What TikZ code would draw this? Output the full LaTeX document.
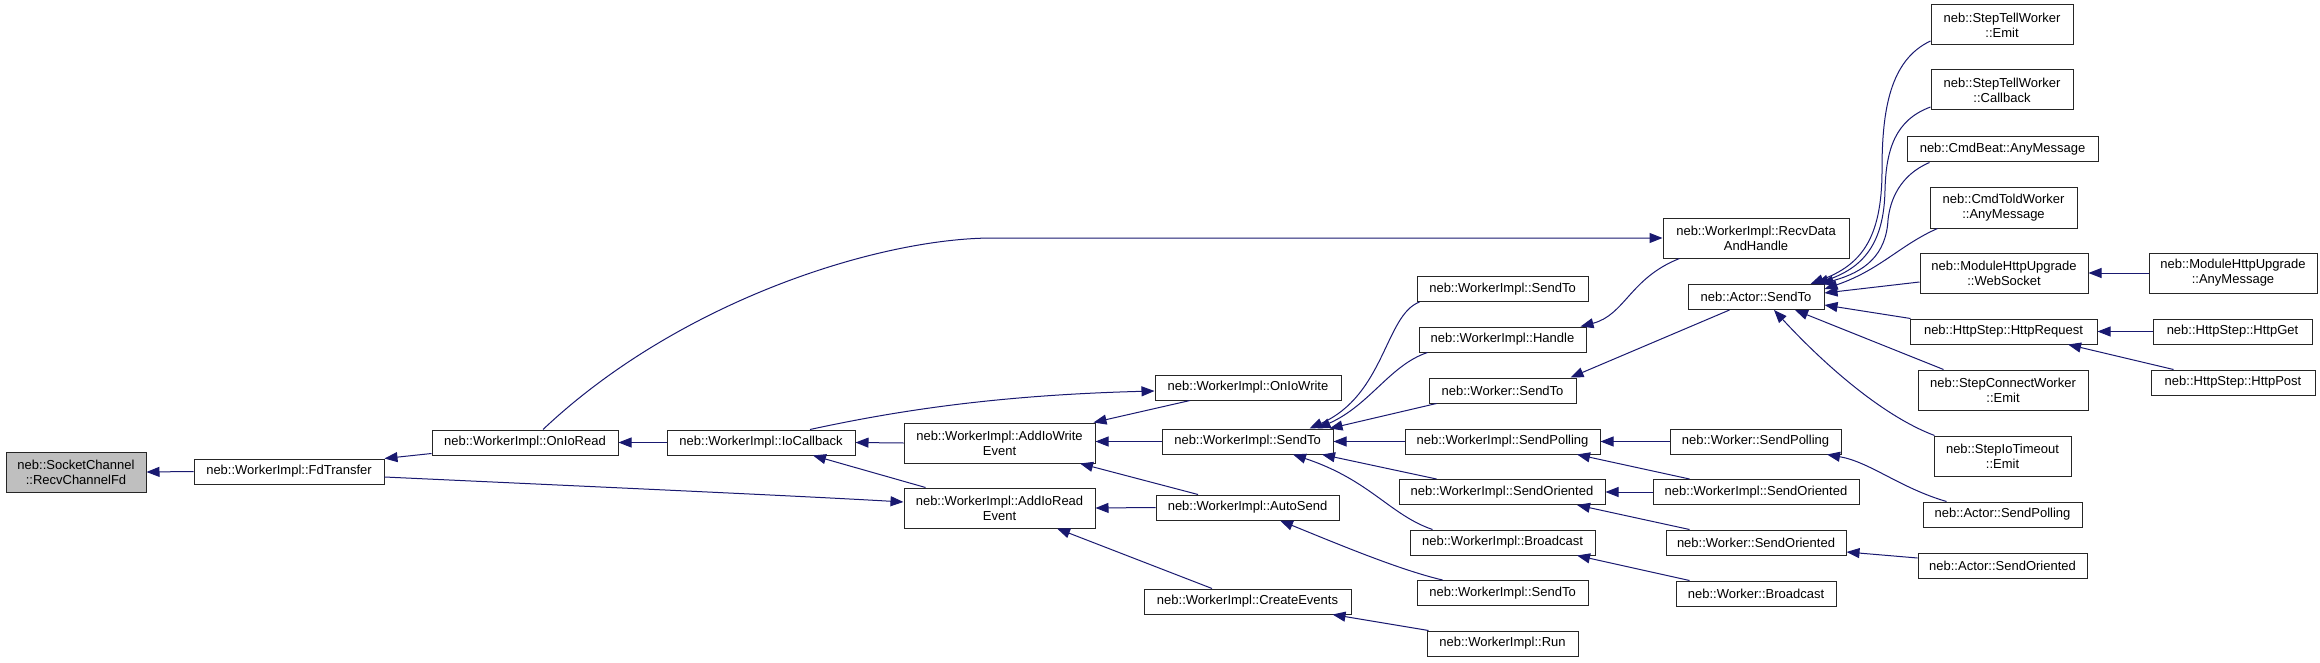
\documentclass[tikz,border=0pt]{standalone}
\usepackage{fontspec}
\setmainfont{Liberation Sans}
\usetikzlibrary{arrows.meta,calc}
\definecolor{edgeblue}{HTML}{191970}
\definecolor{rootgray}{HTML}{BFBFBF}
\tikzset{
  box/.style={draw=black!85, line width=1pt, fill=white, inner sep=0pt, align=center,
    font=\fontsize{13}{15}\selectfont},
  callarrow/.style={draw=edgeblue, line width=1pt, -{Triangle[length=13pt,width=10pt]}}
}
\newcommand\gnode[6]{\node[box, minimum width=#4pt, minimum height=#5pt] (#1) at (#2,#3) {#6};}
\begin{document}
\begin{tikzpicture}[x=1pt,y=-1pt]
\fill[white] (0,0) rectangle (2320,663);
\useasboundingbox (0,0) rectangle (2320,663);
\node[box, fill=rootgray, minimum width=140pt, minimum height=40pt] (rcf) at (76,472) {neb::SocketChannel\\::RecvChannelFd};
\gnode{fdt}{289}{471.5}{190}{25}{neb::WorkerImpl::FdTransfer}
\gnode{onr}{525}{442.5}{186}{25}{neb::WorkerImpl::OnIoRead}
\gnode{ioc}{761}{442.5}{188}{25}{neb::WorkerImpl::IoCallback}
\gnode{aiw}{999.5}{443}{191}{40}{neb::WorkerImpl::AddIoWrite\\Event}
\gnode{air}{999.5}{508}{191}{40}{neb::WorkerImpl::AddIoRead\\Event}
\gnode{oiw}{1248}{387.5}{186}{25}{neb::WorkerImpl::OnIoWrite}
\gnode{wst}{1247.5}{441.5}{171}{25}{neb::WorkerImpl::SendTo}
\gnode{aus}{1247.5}{507.5}{183}{25}{neb::WorkerImpl::AutoSend}
\gnode{cre}{1247.5}{601.5}{207}{25}{neb::WorkerImpl::CreateEvents}
\gnode{wsa}{1502.5}{289}{171}{25}{neb::WorkerImpl::SendTo}
\gnode{hdl}{1502.5}{339.5}{167}{25}{neb::WorkerImpl::Handle}
\gnode{wks}{1502.5}{390.5}{147}{25}{neb::Worker::SendTo}
\gnode{spl}{1502.5}{441.5}{195}{25}{neb::WorkerImpl::SendPolling}
\gnode{sor}{1502}{492}{206}{25}{neb::WorkerImpl::SendOriented}
\gnode{brc}{1502.5}{542.5}{185}{25}{neb::WorkerImpl::Broadcast}
\gnode{wsb}{1502.5}{593}{171}{25}{neb::WorkerImpl::SendTo}
\gnode{run}{1502.5}{643.5}{151}{25}{neb::WorkerImpl::Run}
\gnode{rdh}{1756}{238}{186}{40}{neb::WorkerImpl::RecvData\\AndHandle}
\gnode{ast}{1756}{297}{136}{25}{neb::Actor::SendTo}
\gnode{wsp}{1755.5}{441.5}{171}{25}{neb::Worker::SendPolling}
\gnode{sot}{1756}{492}{206}{25}{neb::WorkerImpl::SendOriented}
\gnode{wso}{1756}{542.5}{180}{25}{neb::Worker::SendOriented}
\gnode{wbc}{1756}{593.5}{160}{25}{neb::Worker::Broadcast}
\gnode{ste}{2002}{25}{142}{40}{neb::StepTellWorker\\::Emit}
\gnode{stc}{2002}{90}{142}{40}{neb::StepTellWorker\\::Callback}
\gnode{cba}{2002.5}{149.5}{191}{25}{neb::CmdBeat::AnyMessage}
\gnode{cta}{2003.5}{208}{147}{40}{neb::CmdToldWorker\\::AnyMessage}
\gnode{mws}{2004}{273}{168}{40}{neb::ModuleHttpUpgrade\\::WebSocket}
\gnode{mam}{2233}{273}{168}{40}{neb::ModuleHttpUpgrade\\::AnyMessage}
\gnode{hrq}{2003.5}{331.5}{187}{25}{neb::HttpStep::HttpRequest}
\gnode{hge}{2232.5}{331.5}{159}{25}{neb::HttpStep::HttpGet}
\gnode{hpo}{2233}{382.5}{164}{25}{neb::HttpStep::HttpPost}
\gnode{sce}{2003}{390}{170}{40}{neb::StepConnectWorker\\::Emit}
\gnode{sit}{2002.5}{456}{137}{40}{neb::StepIoTimeout\\::Emit}
\gnode{asp}{2002.5}{514.5}{159}{25}{neb::Actor::SendPolling}
\gnode{aso}{2002.5}{565.5}{169}{25}{neb::Actor::SendOriented}
% edges
\draw[callarrow] (fdt.west) -- (rcf.east);
\draw[callarrow] ($(onr.south west)+(0,-2)$) -- (fdt.north east);
\draw[callarrow] ($(fdt.east)+(0,5.5)$) .. controls (600,487) and (800,496) .. ($(air.west)+(0,-6)$);
\draw[callarrow] (ioc.west) -- (onr.east);
\draw[callarrow] ($(onr.north)+(18,0)$) .. controls (680,300) and (880,238) .. (993,238) -- (rdh.west);
\draw[callarrow] (aiw.west) -- (ioc.east);
\draw[callarrow] ($(ioc.north)+(49,0)$) .. controls (900,410) and (1000,395) .. ($(oiw.west)+(0,3.5)$);
\draw[callarrow] ($(air.north west)+(22,0)$) -- ($(ioc.south)+(52,0)$);
\draw[callarrow] ($(oiw.south)+(-58,0)$) -- ($(aiw.north east)+(-2,0)$);
\draw[callarrow] (wst.west) -- (wst.west -| aiw.east);
\draw[callarrow] ($(aus.north)+(-49.5,0)$) -- ($(aiw.south)+(80.5,0)$);
\draw[callarrow] (aus.west) -- (air.east);
\draw[callarrow] ($(cre.north)+(-35.5,0)$) -- ($(air.south)+(57.5,0)$);
\draw[callarrow] ($(wsa.south west)+(3,0)$) .. controls (1385,315) and (1385,395) .. ($(wst.north)+(62,0)$);
\draw[callarrow] ($(hdl.south west)+(9,0)$) .. controls (1390,365) and (1370,405) .. ($(wst.north)+(70,0)$);
\draw[callarrow] ($(wks.south west)+(8,0)$) -- ($(wst.north east)+(-4,0)$);
\draw[callarrow] (spl.west) -- (wst.east);
\draw[callarrow] ($(sor.north west)+(38,0)$) -- ($(wst.south)+(74.5,0)$);
\draw[callarrow] ($(brc.north west)+(23,0)$) .. controls (1390,515) and (1370,480) .. ($(wst.south)+(45.5,0)$);
\draw[callarrow] ($(wsb.north west)+(26,0)$) .. controls (1400,570) and (1340,545) .. ($(aus.south)+(32.5,0)$);
\draw[callarrow] ($(run.north west)+(2,0)$) -- ($(cre.south east)+(-19,0)$);
\draw[callarrow] ($(rdh.south west)+(17,0)$) .. controls (1630,278) and (1625,315) .. ($(hdl.north east)+(-6,0)$);
\draw[callarrow] ($(ast.south west)+(42,0)$) -- ($(wks.north east)+(-6,0)$);
\draw[callarrow] (wsp.west) -- (spl.east);
\draw[callarrow] ($(sot.north west)+(37,0)$) -- ($(spl.south)+(74.5,0)$);
\draw[callarrow] (sot.west) -- (sor.east);
\draw[callarrow] ($(wso.north west)+(24,0)$) -- ($(sor.south)+(75,0)$);
\draw[callarrow] ($(wbc.north west)+(14,0)$) -- ($(brc.south)+(74.5,0)$);
\draw[callarrow] ($(asp.north west)+(24,0)$) .. controls (1900,488) and (1870,462) .. ($(wsp.south)+(71.5,0)$);
\draw[callarrow] ($(aso.west)+(0,-7.5)$) -- ($(wso.east)+(0,9.5)$);
\draw[callarrow] ($(ste.west)+(0,16)$) .. controls (1890,60) and (1882,110) .. (1882,170) .. controls (1882,240) and (1860,265) .. ($(ast.north east)+(-14,0)$);
\draw[callarrow] ($(stc.west)+(0,17)$) .. controls (1895,120) and (1886,150) .. (1885,190) .. controls (1884,245) and (1862,268) .. ($(ast.north east)+(-9,0)$);
\draw[callarrow] ($(cba.south west)+(23,0)$) .. controls (1900,175) and (1890,200) .. (1888,220) .. controls (1886,255) and (1865,272) .. ($(ast.north east)+(-4,0)$);
\draw[callarrow] ($(cta.south west)+(8,0)$) .. controls (1900,245) and (1880,270) .. ($(ast.east)+(0,-8)$);
\draw[callarrow] ($(mws.west)+(0,9)$) -- ($(ast.east)+(0,-4)$);
\draw[callarrow] ($(hrq.north west)+(1,0)$) -- ($(ast.east)+(0,8)$);
\draw[callarrow] ($(sce.north west)+(26,0)$) -- ($(ast.south)+(39,0)$);
\draw[callarrow] ($(sit.north west)+(1,0)$) .. controls (1880,415) and (1820,360) .. ($(ast.south)+(18,0)$);
\draw[callarrow] (mam.west) -- (mws.east);
\draw[callarrow] (hge.west) -- (hrq.east);
\draw[callarrow] ($(hpo.north west)+(23,0)$) -- ($(hrq.south)+(64.5,0)$);
\end{tikzpicture}
\end{document}
